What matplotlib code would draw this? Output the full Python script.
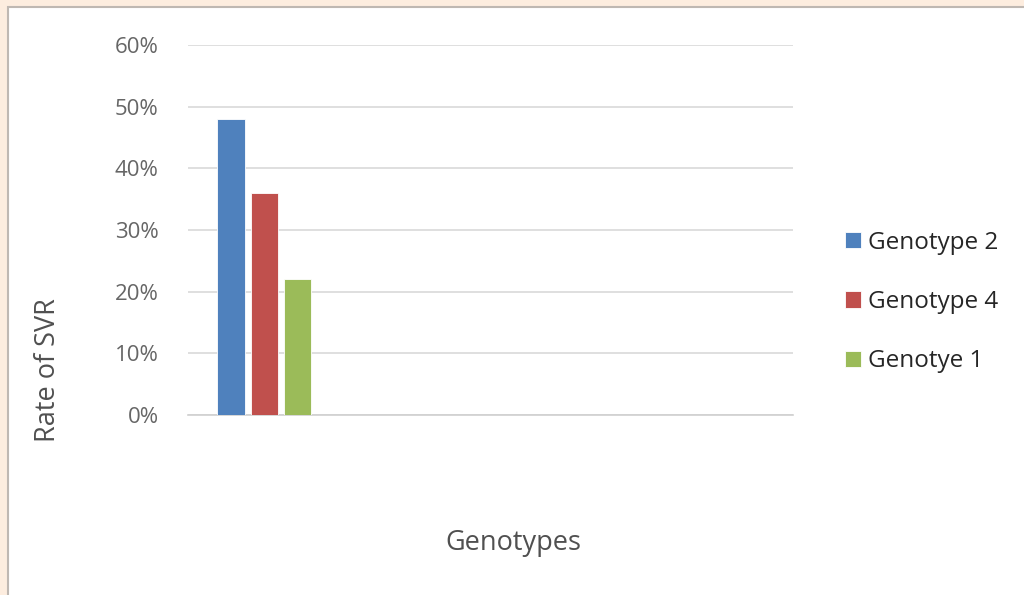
import matplotlib
matplotlib.use("Agg")
import matplotlib.pyplot as plt
from matplotlib.patches import Rectangle
from matplotlib.ticker import PercentFormatter

series = ["Genotype 2", "Genotype 4", "Genotye 1"]
svr_rate = [48, 36, 22]          # percent
colors = ["#4F81BD", "#C0504D", "#9BBB59"]
yticks = [0, 10, 20, 30, 40, 50, 60]

W, H, DPI = 1024, 595, 100
FONT = "Open Sans"
fig = plt.figure(figsize=(W / DPI, H / DPI), dpi=DPI)
fig.patch.set_facecolor("#FDEDDF")

# white chart area with thin grey frame (behind everything)
frame = Rectangle((8 / W, -0.05), 1.1, (H - 7) / H + 0.05,
                  transform=fig.transFigure, facecolor="white",
                  edgecolor="#BFB8B2", linewidth=1.5, zorder=-10)
fig.patches.append(frame)

ax = fig.add_axes([188 / W, (H - 415) / H, 605 / W, 370 / H])
ax.set_zorder(2)
ax.set_facecolor("none")

bw, step = 0.18, 0.22
for i, (name, v, c) in enumerate(zip(series, svr_rate, colors)):
    ax.bar((i - 1) * step, v, width=bw, color=c, edgecolor="white",
           linewidth=0.6, label=name, zorder=3)

ax.set_xlim(-0.504, 3.496)
ax.set_ylim(0, 60)
ax.set_yticks(yticks)
ax.yaxis.set_major_formatter(PercentFormatter(decimals=0))
ax.set_xticks([])
ax.grid(axis="y", color="#D9D9D9", linewidth=1.2, zorder=0)
for s in ("left", "right", "top"):
    ax.spines[s].set_visible(False)
ax.spines["bottom"].set_color("#D0D0D0")
ax.spines["bottom"].set_linewidth(1.2)
ax.tick_params(axis="y", length=0, pad=21, labelsize=16, labelcolor="#666666")
for t in ax.get_yticklabels():
    t.set_fontfamily(FONT)

fig.text(48 / W, 1 - 370 / H, "Rate of SVR", rotation=90, ha="center",
         va="center", fontsize=19.5, color="#505050", family=FONT)
fig.text(513 / W, 1 - 543 / H, "Genotypes", ha="center", va="center",
         fontsize=19.5, color="#505050", family=FONT)

leg = fig.legend(loc="center left", bbox_to_anchor=(823 / W, 1 - 302 / H),
                 frameon=False, prop={"family": FONT, "size": 17.5},
                 handlelength=0.65, handleheight=0.65, handletextpad=0.3,
                 labelspacing=1.45)
leg.set_zorder(5)
for t in leg.get_texts():
    t.set_color("#262626")

fig.savefig("out.png", dpi=DPI)
